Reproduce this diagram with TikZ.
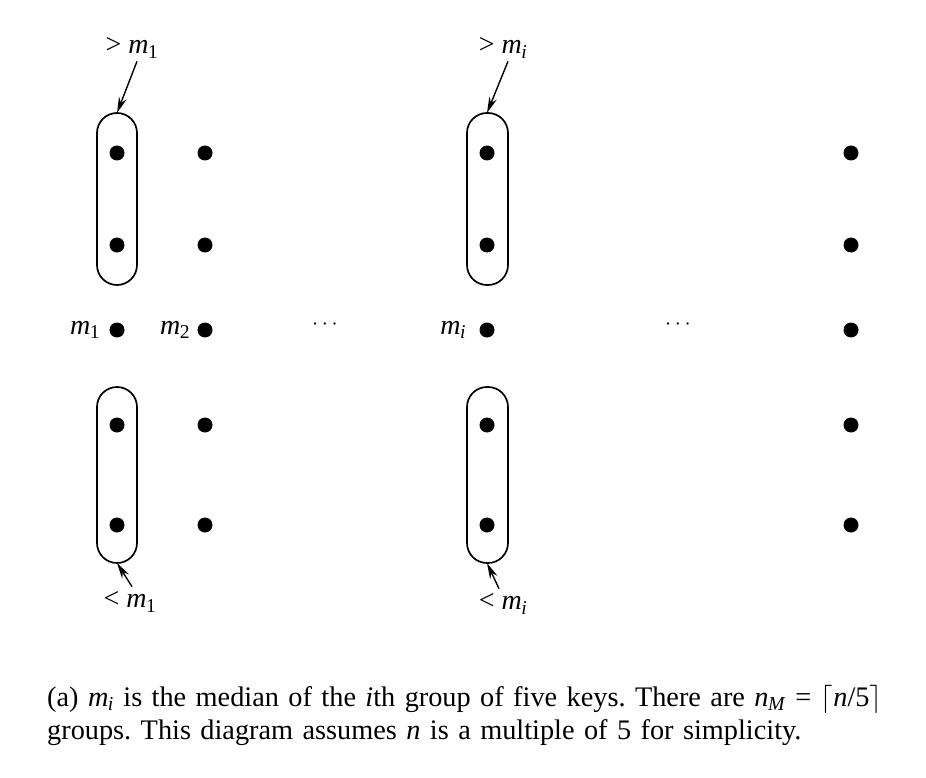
\documentclass[tikz,border=0pt]{standalone}
\usepackage{fix-cm}
\usepackage{fontspec}
\setmainfont{Liberation Serif}
\newfontfamily\capfont[WordSpace=0.75]{Liberation Serif}
\usetikzlibrary{arrows.meta}
\newcommand{\vr}[2]{\textit{#1}\textsubscript{\kern-0.5pt#2}}
\begin{document}
\frenchspacing
\begin{tikzpicture}[x=1pt,y=-1pt,
  key/.style={circle,fill=black,inner sep=0pt,minimum size=15pt},
  capsule/.style={draw,line width=1.7pt,rounded corners=20pt},
  ptr/.style={line width=1.4pt,-{Stealth[length=16pt,width=8pt]}},
  lab/.style={font=\fontsize{28}{30}\selectfont,inner sep=1pt},
  dots/.style={font=\fontsize{22}{26}\selectfont}]
\useasboundingbox (0,0) rectangle (926,778);
% columns
\foreach \c/\x in {a/117,b/205,c/487,d/851}{
  \foreach \r/\y in {1/153,2/245,3/330,4/425,5/525}{
    \node[key] (\c\r) at (\x,\y) {};
  }
}
% capsules
\draw[capsule] (97,113) rectangle (137,285);
\draw[capsule] (97,387) rectangle (137,563);
\draw[capsule] (467,113) rectangle (508,285);
\draw[capsule] (467,387) rectangle (508,563);
\coordinate (a-top) at (117,113);
\coordinate (a-bot) at (117,563);
\coordinate (c-top) at (487,113);
\coordinate (c-bot) at (487,563);
% labels
\node[lab] (gt1) at (132,48) {> \vr{m}{1}};
\node[lab] (lt1) at (130,602) {< \vr{m}{1}};
\node[lab] (gti) at (503,48) {> \vr{m}{\textit{i}}};
\node[lab] (lti) at (503,604) {< \vr{m}{\textit{i}}};
\draw[ptr] (gt1.south) ++(5,2) -- (a-top);
\draw[ptr] (gti.south) ++(5,2) -- (c-top);
\draw[ptr] (lt1.north) ++(2,-4) -- (a-bot);
\draw[ptr] (lti.north) ++(-4,-4) -- (c-bot);
\node[lab,anchor=east] (m1) at (a3.west) [xshift=-8pt] {\vr{m}{1}};
\node[lab,anchor=east] (m2) at (b3.west) [xshift=-6pt] {\vr{m}{2}};
\node[lab,anchor=east] (mi) at (c3.west) [xshift=-12pt] {\vr{m}{\textit{i}}};
\node[dots] (d1) at (325,325) {$\cdots$};
\node[dots] (d2) at (678,325) {$\cdots$};
% caption
\node[anchor=north west,text width=900pt,inner sep=0pt,align=left,
  font=\capfont\fontsize{28.3}{33}\selectfont] (cap) at (47,685)
  {(a) \vr{m}{\textit{i}} is the median of the \textit{i}th group of five keys. There are \vr{n}{\textit{M}} = $\lceil$\textit{n}/5$\rceil$\\
   groups. This diagram assumes \textit{n} is a multiple of 5 for simplicity.};
\end{tikzpicture}
\end{document}
